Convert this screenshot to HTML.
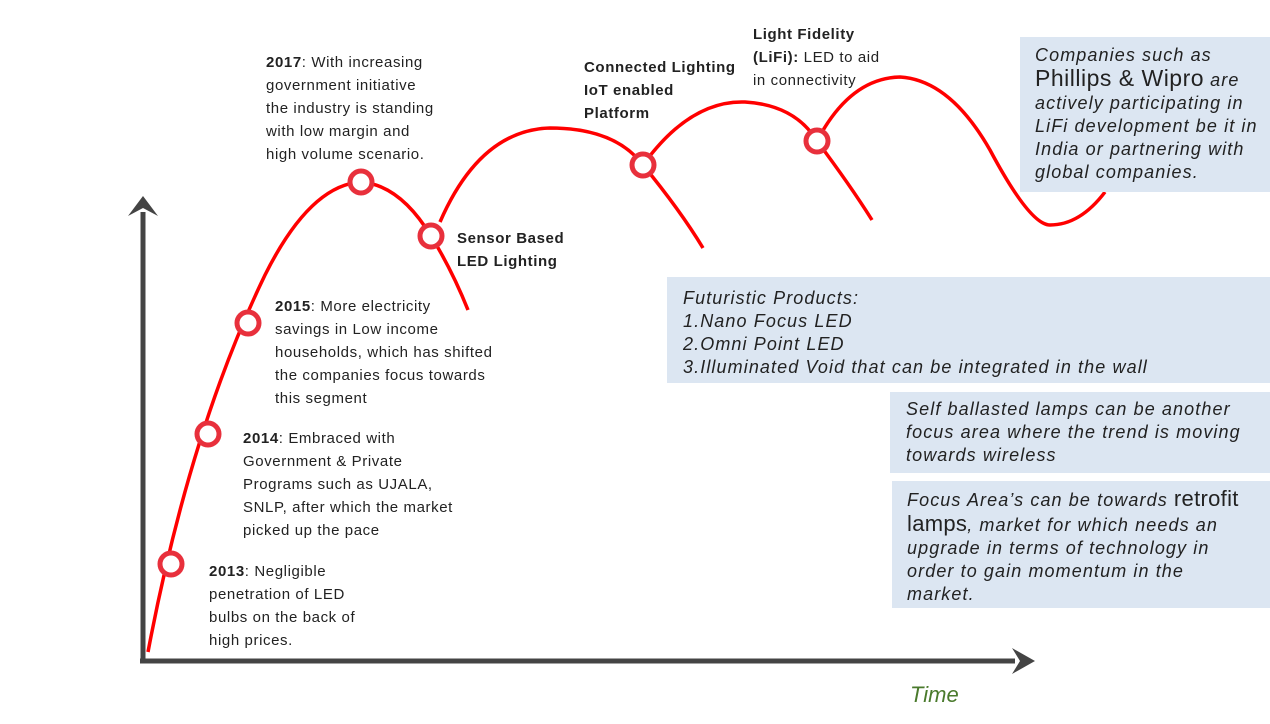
<!DOCTYPE html>
<html><head><meta charset="utf-8"><style>
body{margin:0;width:1270px;height:724px;background:#fff;position:relative;overflow:hidden;font-family:"Liberation Sans",sans-serif;}
.t{position:absolute;font-size:15px;line-height:23px;color:#222;letter-spacing:0.6px;}
.b{font-weight:bold;}
.box{position:absolute;background:#dce6f2;font-style:italic;color:#222;font-size:18px;line-height:23px;box-sizing:border-box;letter-spacing:1.1px;white-space:nowrap;}
svg{position:absolute;left:0;top:0;}
</style></head><body>
<svg width="1270" height="724">
<g stroke="#444" stroke-width="5" fill="#444">
<line x1="143" y1="662" x2="143" y2="212"/>
<line x1="140" y1="661" x2="1015" y2="661"/>
</g>
<polygon points="143,196 128,216 143,208 158,216" fill="#444"/>
<polygon points="1035,661 1012,648 1020,661 1012,674" fill="#444"/>
<g stroke="#ff0000" stroke-width="3.5" fill="none">
<path d="M148,652 Q190,430 265,275 Q310,185 361,182 Q400,185 431,236 Q452,270 468,310"/>
<path d="M440,222 Q480,130 550,128 Q615,128 643,165 Q680,210 703,248"/>
<path d="M643,165 Q690,100 745,102 Q795,105 817,141 Q850,185 872,220"/>
<path d="M817,141 Q850,78 900,77 Q950,80 990,150 Q1030,225 1050,225 Q1080,225 1105,192"/>
</g>
<g stroke="#e8303c" stroke-width="5" fill="#fff">
<circle cx="171" cy="564" r="11"/>
<circle cx="208" cy="434" r="11"/>
<circle cx="248" cy="323" r="11"/>
<circle cx="361" cy="182" r="11"/>
<circle cx="431" cy="236" r="11"/>
<circle cx="643" cy="165" r="11"/>
<circle cx="817" cy="141" r="11"/>
</g>
</svg>
<div class="t" style="left:209px;top:560px"><span class="b">2013</span>: Negligible<br>penetration of LED<br>bulbs on the back of<br>high prices.</div>
<div class="t" style="left:243px;top:427px"><span class="b">2014</span>: Embraced with<br>Government &amp; Private<br>Programs such as UJALA,<br>SNLP, after which the market<br>picked up the pace</div>
<div class="t" style="left:275px;top:295px"><span class="b">2015</span>: More electricity<br>savings in Low income<br>households, which has shifted<br>the companies focus towards<br>this segment</div>
<div class="t" style="left:266px;top:51px"><span class="b">2017</span>: With increasing<br>government initiative<br>the industry is standing<br>with low margin and<br>high volume scenario.</div>
<div class="t b" style="left:457px;top:227px">Sensor Based<br>LED Lighting</div>
<div class="t b" style="left:584px;top:56px">Connected Lighting<br>IoT enabled<br>Platform</div>
<div class="t" style="left:753px;top:23px"><span class="b">Light Fidelity<br>(LiFi):</span> LED to aid<br>in connectivity</div>
<div class="box" style="left:1020px;top:37px;width:250px;height:155px;padding:7px 0 0 15px;">Companies such as<br><span style="font-size:23px;font-style:normal;letter-spacing:0.5px">Phillips &amp; Wipro</span> are<br>actively participating in<br>LiFi development be it in<br>India or partnering with<br>global companies.</div>
<div class="box" style="left:667px;top:277px;width:603px;height:106px;padding:10px 0 0 16px;">Futuristic Products:<br>1.Nano Focus LED<br>2.Omni Point LED<br>3.Illuminated Void that can be integrated in the wall</div>
<div class="box" style="left:890px;top:392px;width:380px;height:81px;padding:6px 0 0 16px;">Self ballasted lamps can be another<br>focus area where the trend is moving<br>towards wireless</div>
<div class="box" style="left:892px;top:481px;width:378px;height:127px;padding:6px 0 0 15px;">Focus Area’s can be towards <span style="font-size:22px;font-style:normal;letter-spacing:0.3px">retrofit<br>lamps</span>, market for which needs an<br>upgrade in terms of technology in<br>order to gain momentum in the<br>market.</div>
<div style="position:absolute;left:910px;top:682px;font-size:22px;font-style:italic;color:#4a7a2c;">Time</div>
</body></html>
